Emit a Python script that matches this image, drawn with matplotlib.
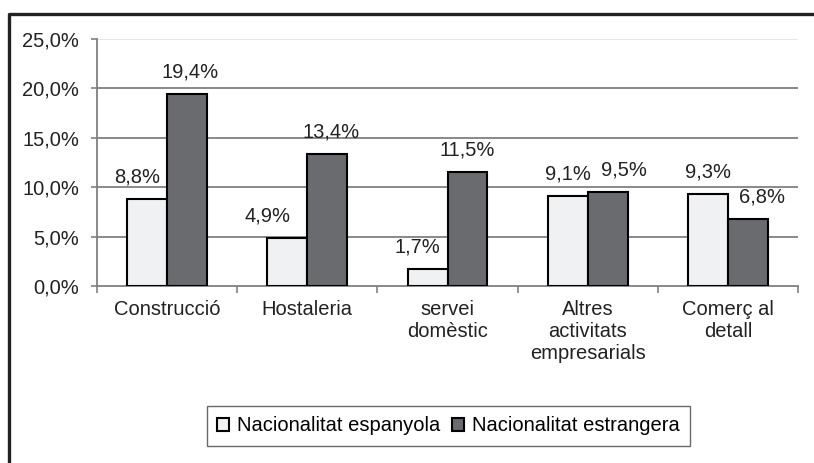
import numpy as np
import matplotlib
matplotlib.use("Agg")
import matplotlib.pyplot as plt
from matplotlib.lines import Line2D
from matplotlib.ticker import FuncFormatter

# percentatge per sector i nacionalitat
categories = ["Construcció", "Hostaleria", "servei\ndomèstic",
              "Altres\nactivitats\nempresarials", "Comerç al\ndetall"]
espanyola = [8.8, 4.9, 1.7, 9.1, 9.3]
estrangera = [19.4, 13.4, 11.5, 9.5, 6.8]
series_names = ["Nacionalitat espanyola", "Nacionalitat estrangera"]

# desplaçament horitzontal de les etiquetes (punts)
dx_esp = [-7, -14, -7, 0, 0]
dx_est = [2, 3, 0, 12, 10]

FS = 14.5
plt.rcParams['font.family'] = ['Liberation Sans', 'DejaVu Sans']
plt.rcParams['font.size'] = FS

fig = plt.figure(figsize=(8.14, 4.63), dpi=100)
ax = fig.add_axes([0.1192, 0.3823, 0.8612, 0.5335])

x = np.arange(len(categories))
w = 0.285
light = "#f0f1f3"
dark = "#6a6b6e"

b1 = ax.bar(x - w / 2, espanyola, w, color=light, edgecolor="black", linewidth=1.5, zorder=3)
b2 = ax.bar(x + w / 2, estrangera, w, color=dark, edgecolor="black", linewidth=1.5, zorder=3)

for bars, vals, dxs in ((b1, espanyola, dx_esp), (b2, estrangera, dx_est)):
    for b, v, d in zip(bars, vals, dxs):
        ax.annotate(("%.1f%%" % v).replace(".", ","),
                    (b.get_x() + b.get_width() / 2, v),
                    xytext=(d, 9), textcoords="offset points",
                    ha="center", va="bottom", fontsize=FS, color="#222222")

ax.set_xlim(-0.5, len(categories) - 0.5)
ax.set_ylim(0, 25)
ax.set_yticks([0, 5, 10, 15, 20, 25])
ax.yaxis.set_major_formatter(FuncFormatter(lambda v, p: ("%.1f%%" % v).replace(".", ",")))

# línies de quadrícula
for yv in [5, 10, 15, 20]:
    ax.axhline(yv, color="#808080", linewidth=1.3, zorder=1)
ax.axhline(25, color="#e4e4e4", linewidth=1.3, zorder=1)

ax.set_xticks(x)
ax.set_xticklabels(categories, linespacing=1.2)
ax.set_xticks(np.arange(len(categories) + 1) - 0.5, minor=True)
ax.tick_params(axis="x", which="major", length=0, pad=10, colors="#222222", labelsize=FS)
ax.tick_params(axis="x", which="minor", length=5, width=1.2, color="#808080", direction="out")
ax.tick_params(axis="y", length=4, width=1.2, color="#808080", pad=9, labelcolor="#222222", labelsize=FS)

for s in ["top", "right"]:
    ax.spines[s].set_visible(False)
ax.spines["left"].set_color("#808080")
ax.spines["left"].set_linewidth(1.3)
ax.spines["bottom"].set_color("#808080")
ax.spines["bottom"].set_linewidth(1.3)

leg = fig.legend([b1, b2], series_names, loc="center", bbox_to_anchor=(0.551, 0.08),
                 ncol=2, frameon=True, fancybox=False, fontsize=FS,
                 handlelength=0.6, handleheight=0.6, handletextpad=0.4,
                 columnspacing=0.6, borderpad=0.5, edgecolor="#444444")
leg.get_frame().set_linewidth(1.0)

# marc exterior
fig.add_artist(Line2D([0.0111, 0.0111, 1.0], [0.0, 0.9705, 0.9705],
                      transform=fig.transFigure, color="#222222", linewidth=2.4))

fig.savefig("out.png", dpi=100)
